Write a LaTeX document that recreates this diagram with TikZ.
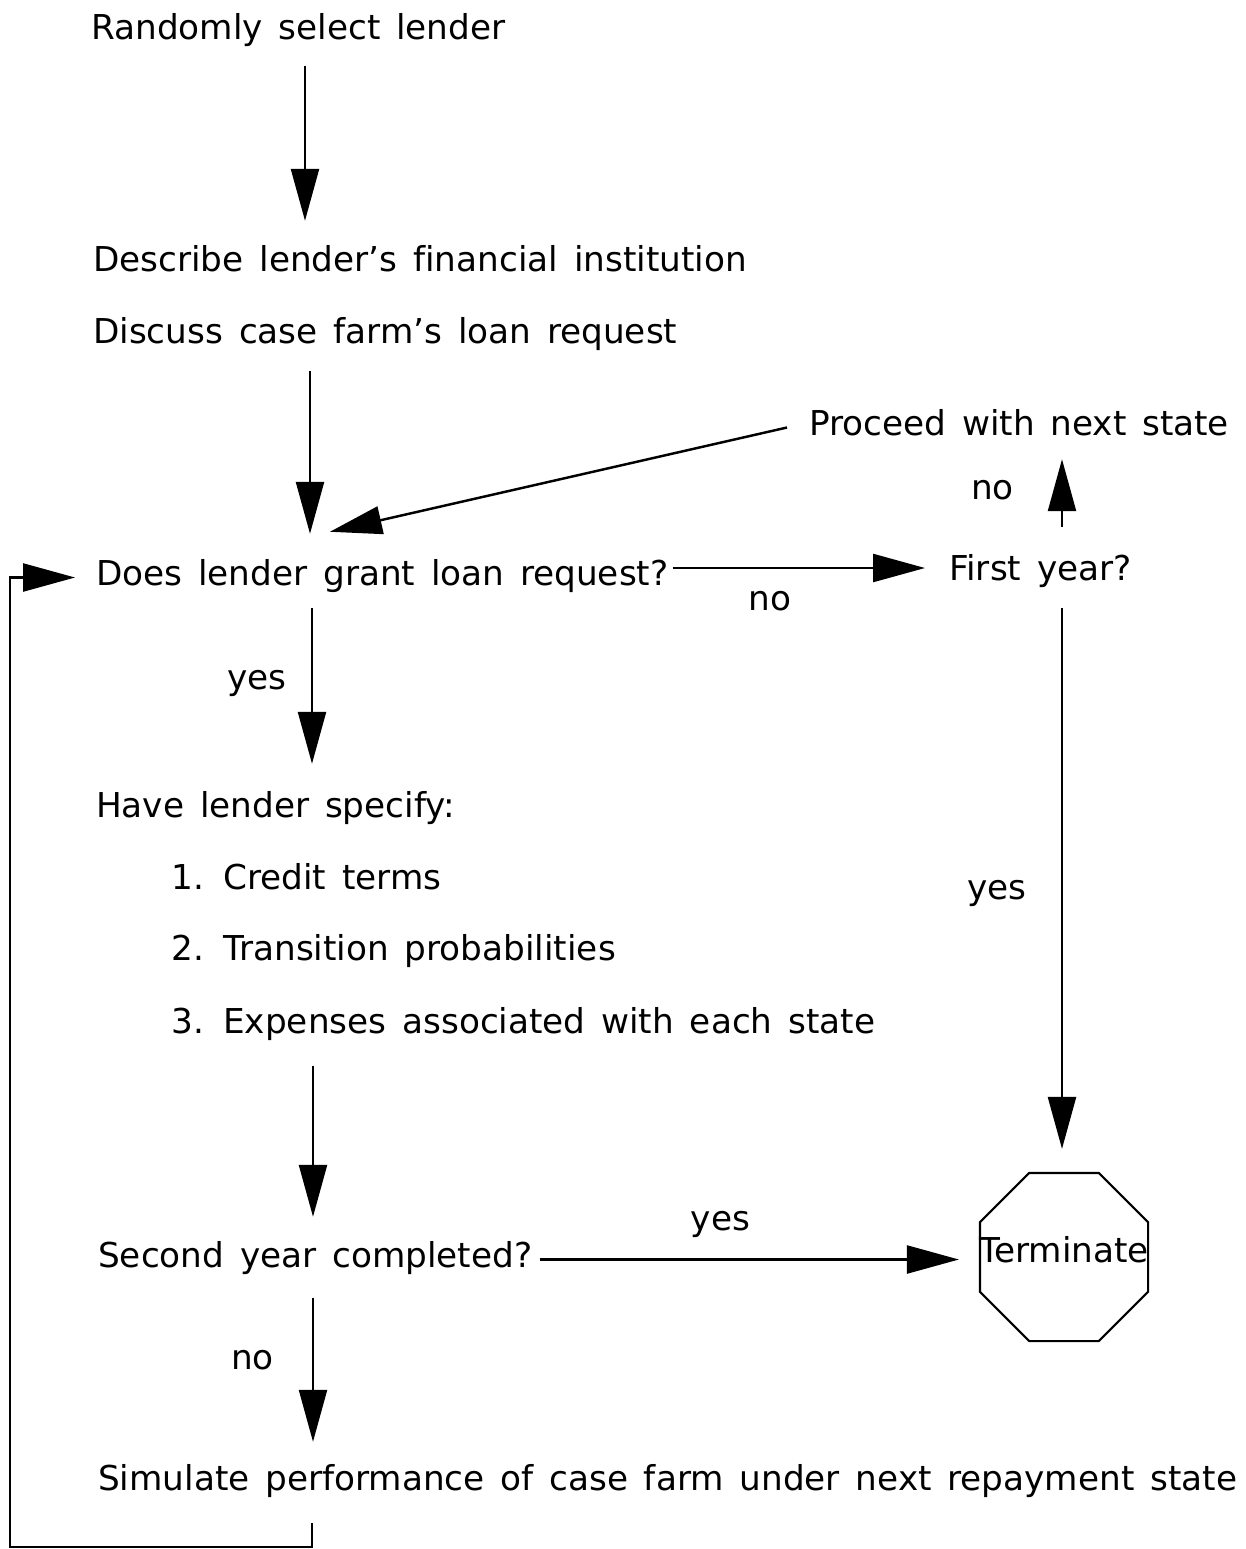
\documentclass[tikz,border=0pt]{standalone}
\usepackage{fontspec}
\setmainfont{DejaVu Sans}[WordSpace=1.45, Ligatures=NoCommon]
\usetikzlibrary{arrows.meta,shapes.geometric}

\begin{document}
\begin{tikzpicture}[->, >={Triangle[length=1.04cm,width=0.56cm]}, x=0.02cm, y=-0.02cm, line width=1.4pt,
  stage node/.style={anchor=base west, inner sep=0pt, text height=0.5cm, text depth=0.2cm},
  stop node/.style={draw, line width=1.2pt, regular polygon, regular polygon sides=8, minimum size=3.64cm, inner sep=0pt}]
  \tikzstyle{every node}=[font=\fontsize{19.5}{23}\selectfont]
  \useasboundingbox (0,0) rectangle (1245,1549);

  \node[stage node] (1) at (90,39) {Randomly select lender};
  \node[stage node] (2) at (92,271) {Describe lender’s financial institution};
  \node[stage node] (3) at (92,343) {Discuss case farm’s loan request};
  \node[stage node] (4) at (808,435) {Proceed with next state};
  \node[stage node] (5) at (95,585) {Does lender grant loan request?};
  \node[stage node] (6) at (948,580) {First year?};
  \node[stage node] (7) at (95,817) {Have lender specify:};
  \node[stage node] (8) at (170,889) {1. Credit terms};
  \node[stage node] (9) at (170,960) {2. Transition probabilities};
  \node[stage node] (10) at (170,1033) {3. Expenses associated with each state};
  \node[stage node] (11) at (97,1267) {Second year completed?};
  \node[stop node, label={[yshift=0.14cm]center:Terminate}] (12) at (1064,1257) {};
  \node[stage node] (13) at (97,1490) {Simulate performance of case farm under next repayment state};

  \path[every node/.style={font=\fontsize{19.5}{23}\selectfont, inner sep=0pt}]
    (1.south -| 305,0) edge[shorten <=0.32cm, shorten >=0.48cm] (2.north -| 305,0)
    (3.south -| 310,0) edge[shorten <=0.34cm, shorten >=0.5cm] (5.north -| 310,0)
    ([xshift=-0.42cm]4.west) edge ([xshift=4.7cm,yshift=0.54cm]5.north west)
    (5.east |- 0,568) edge[shorten <=0.06cm, shorten >=0.46cm] node[below=0.44cm, pos=0.36] {no} (6.west |- 0,568)
    (5.south -| 312,0) edge[shorten <=0.24cm, shorten >=0.54cm] node[left=0.48cm, pos=0.45] {yes} (7.north -| 312,0)
    (6.north -| 1062,0) edge[shorten <=0.54cm, shorten >=0.26cm] node[left=0.94cm, pos=0.59] {no} (4.south -| 1062,0)
    (6.south -| 1062,0) edge[shorten <=0.34cm, shorten >=0.46cm] node[left=0.68cm, pos=0.52] {yes} (12.north -| 1062,0)
    (10.south -| 313,0) edge[shorten <=0.44cm, shorten >=0.48cm] (11.north -| 313,0)
    (11.east) edge[shorten <=0.12cm, shorten >=0.4cm] node[above=0.42cm, pos=0.42] {yes} (11.east -| 12.west)
    (11.south -| 313,0) edge[shorten <=0.4cm, shorten >=0.44cm] node[left=0.76cm, pos=0.44] {no} (13.north -| 313,0);

  % back to the loan decision
  \draw[shorten >=0.4cm] ([yshift=-0.44cm]13.south -| 312,0) |- (10,1547) |- (5.west);

\end{tikzpicture}
\end{document}
